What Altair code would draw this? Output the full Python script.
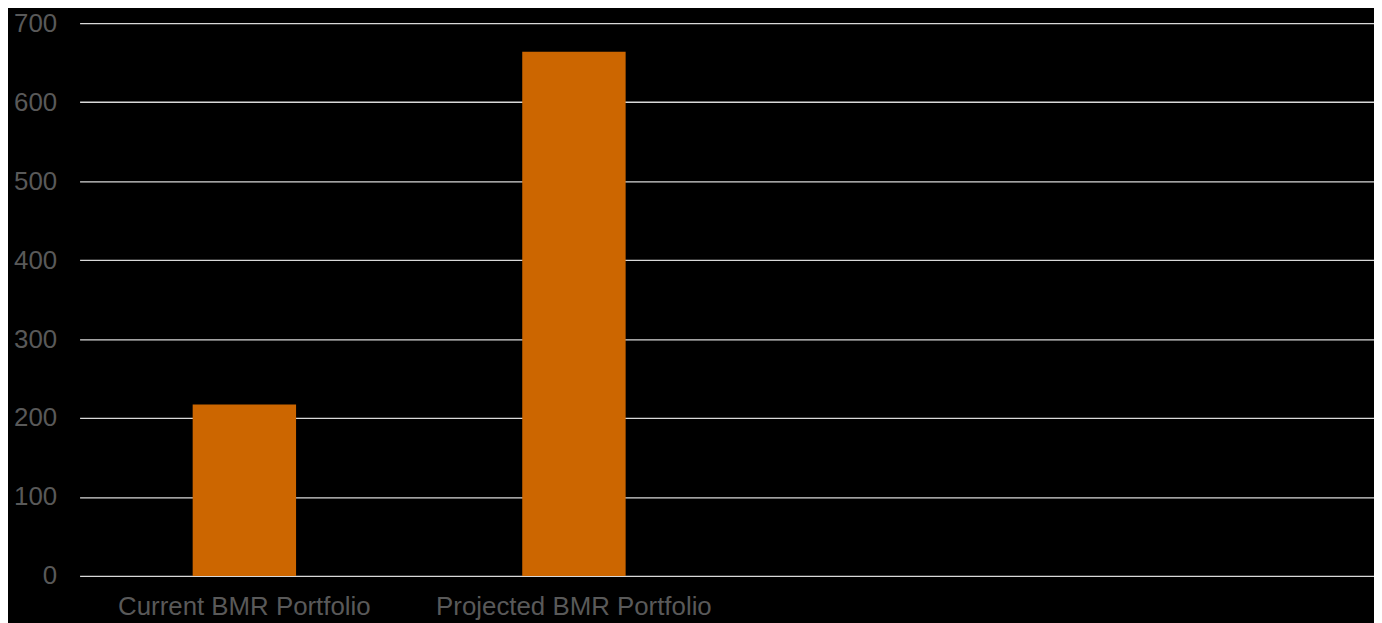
import altair as alt
import pandas as pd

categories = ["Current BMR Portfolio", "Projected BMR Portfolio", " ", "  "]
values = [217, 664, None, None]
y_ticks = [0, 100, 200, 300, 400, 500, 600, 700]

df = pd.DataFrame({"cat": categories, "val": values})

FONT = "Liberation Sans"

chart = (
    alt.Chart(df)
    .mark_bar(size=104, color="#CC6600")
    .encode(
        x=alt.X(
            "cat:N",
            sort=categories,
            scale=alt.Scale(domain=categories, paddingInner=0, paddingOuter=0, range=[0, 1326]),
            axis=alt.Axis(
                title=None,
                labelAngle=0,
                ticks=False,
                domain=False,
                grid=False,
                labelPadding=18,
                labelLimit=0,
                labelFontSize=26,
                labelFont=FONT,
                labelColor="#595959",
            ),
        ),
        y=alt.Y(
            "val:Q",
            scale=alt.Scale(domain=[0, 700], nice=False),
            axis=alt.Axis(
                title=None,
                values=y_ticks,
                ticks=False,
                domain=False,
                grid=True,
                gridColor="#D9D9D9",
                gridWidth=1.3,
                labelPadding=23,
                labelFontSize=26,
                labelFont=FONT,
                labelColor="#595959",
            ),
        ),
    )
    .properties(
        width=1302,
        height=556,
        background="#000000",
        autosize=alt.AutoSizeParams(type="none"),
        padding={"left": 72, "top": 13.5, "right": 0, "bottom": 45},
    )
    .configure_view(stroke=None)
)

chart.save("out.html", embed_options={"renderer": "svg", "actions": False})
